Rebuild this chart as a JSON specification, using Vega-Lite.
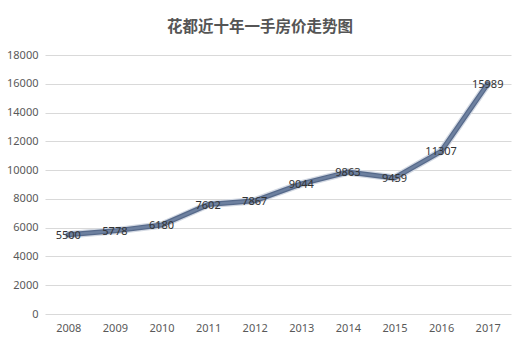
{
  "$schema": "https://vega.github.io/schema/vega-lite/v6.json",
  "autosize": "none",
  "width": 466,
  "height": 259,
  "padding": {"left": 45, "top": 55, "right": 16, "bottom": 40},
  "background": "#ffffff",
  "title": {
    "text": "花都近十年一手房价走势图",
    "font": "Noto Sans CJK SC",
    "fontSize": 15.5,
    "fontWeight": "bold",
    "color": "#555555",
    "anchor": "middle",
    "dx": -18,
    "offset": 14
  },
  "config": {
    "view": {"stroke": null},
    "axis": {"labelFont": "Noto Sans", "labelFontSize": 11, "labelColor": "#595959"}
  },
  "data": {
    "values": [
      {"year": "2008", "price": 5500},
      {"year": "2009", "price": 5778},
      {"year": "2010", "price": 6180},
      {"year": "2011", "price": 7602},
      {"year": "2012", "price": 7867},
      {"year": "2013", "price": 9044},
      {"year": "2014", "price": 9863},
      {"year": "2015", "price": 9459},
      {"year": "2016", "price": 11307},
      {"year": "2017", "price": 15989}
    ]
  },
  "encoding": {
    "x": {
      "field": "year",
      "type": "ordinal",
      "scale": {"paddingInner": 0, "paddingOuter": 0.5},
      "axis": {"title": null, "labelAngle": 0, "domain": false, "ticks": false, "labelPadding": 8}
    },
    "y": {
      "field": "price",
      "type": "quantitative",
      "scale": {"domain": [0, 18000]},
      "axis": {"title": null, "values": [0, 2000, 4000, 6000, 8000, 10000, 12000, 14000, 16000, 18000], "domain": false, "ticks": false, "labelPadding": 7, "gridColor": "#d9d9d9", "format": "d"}
    }
  },
  "layer": [
    {"mark": {"type": "line", "color": "#d3d9e3", "strokeWidth": 7.5, "strokeCap": "round", "strokeJoin": "round"}},
    {"mark": {"type": "line", "color": "#56698a", "strokeWidth": 5, "strokeCap": "round", "strokeJoin": "round"}},
    {"mark": {"type": "line", "color": "#6d809f", "strokeWidth": 2.5, "strokeCap": "round", "strokeJoin": "round"}},
    {
      "mark": {"type": "text", "font": "Noto Sans", "fontSize": 11, "color": "#333333", "baseline": "middle", "dy": 1},
      "encoding": {"text": {"field": "price", "type": "quantitative", "format": "d"}}
    }
  ]
}
